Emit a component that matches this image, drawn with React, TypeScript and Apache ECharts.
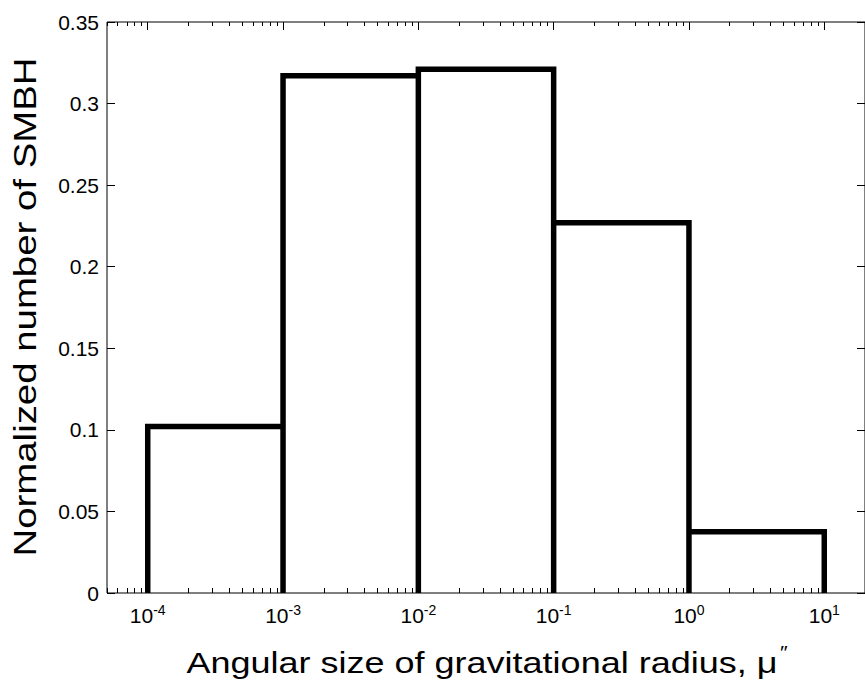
import React, { useEffect, useRef } from 'react';
import * as echarts from 'echarts';

// Histogram bins (angular size, micro-arcsec) and normalized counts
const binEdges = [1e-4, 1e-3, 1e-2, 1e-1, 1, 10];
const fractions = [0.102, 0.317, 0.321, 0.227, 0.0375];
const xRange = [5e-5, 20];
const yTicks = [0, 0.05, 0.1, 0.15, 0.2, 0.25, 0.3, 0.35];
const decadeExponents = [-4, -3, -2, -1, 0, 1];
const minorMultipliers = [2, 3, 4, 5, 6, 7, 8, 9];
const xTitle = 'Angular size of gravitational radius, μ';
const xTitleSup = '\u2033';
const yTitle = 'Normalized number of SMBH';

const FONT = '"Liberation Sans", Arial, Helvetica, sans-serif';

const lg = (v: number) => Math.log10(v);

export default function App() {
  const ref = useRef<HTMLDivElement>(null);
  useEffect(() => {
    document.body.style.margin = '0';
    if (!ref.current) return;
    const chart = echarts.init(ref.current, undefined, { renderer: 'svg' });

    const xMin = lg(xRange[0]);
    const xMax = lg(xRange[1]);
    const majorTicks = decadeExponents.map((e) => e);
    const minorTicks: number[] = [];
    for (let e = -5; e <= 1; e++) {
      for (const m of minorMultipliers) {
        const v = lg(m * Math.pow(10, e));
        if (v >= xMin - 1e-9 && v <= xMax + 1e-9) minorTicks.push(v);
      }
    }

    const stepData: number[][] = [[lg(binEdges[0]), 0]];
    for (let i = 0; i < fractions.length; i++) {
      stepData.push([lg(binEdges[i]), fractions[i]]);
      stepData.push([lg(binEdges[i + 1]), fractions[i]]);
      stepData.push([lg(binEdges[i + 1]), 0]);
    }

    const baseX = {
      type: 'value' as const,
      min: xMin,
      max: xMax,
      splitLine: { show: false },
      axisLine: { show: false, onZero: false },
    };
    const baseY = {
      type: 'value' as const,
      min: yTicks[0],
      max: yTicks[yTicks.length - 1],
      interval: 0.05,
      splitLine: { show: false },
      axisLine: { show: false, onZero: false },
    };
    const tick = (len: number, vals: number[]) => ({
      show: true,
      inside: true,
      length: len,
      customValues: vals,
      lineStyle: { color: '#000', width: 1 },
    });

    chart.setOption({
      animation: false,
      backgroundColor: '#fff',
      grid: {
        left: 107,
        right: -4,
        top: 22,
        bottom: 95,
        show: true,
        borderColor: '#000',
        borderWidth: 1,
        backgroundColor: '#fff',
      },
      xAxis: [
        {
          ...baseX,
          position: 'bottom',
          axisTick: tick(8, majorTicks),
          axisLabel: {
            show: true,
            margin: 10,
            customValues: majorTicks,
            formatter: (v: number) => `{b|10}{s|${Math.round(v)}}`,
            rich: {
              b: { fontSize: 21, fontFamily: FONT, color: '#000' },
              s: { fontSize: 14, fontFamily: FONT, color: '#000', padding: [0, 0, 10, 0] },
            },
          },
        },
        { ...baseX, position: 'bottom', axisTick: tick(5, minorTicks), axisLabel: { show: false } },
        { ...baseX, position: 'top', axisTick: tick(8, majorTicks), axisLabel: { show: false } },
        { ...baseX, position: 'top', axisTick: tick(4, minorTicks), axisLabel: { show: false } },
      ],
      yAxis: [
        {
          ...baseY,
          position: 'left',
          axisTick: { show: true, inside: true, length: 8, lineStyle: { color: '#000' } },
          axisLabel: {
            show: true,
            margin: 8,
            fontSize: 21,
            fontFamily: FONT,
            color: '#000',
            formatter: (v: number) => String(Number(v.toFixed(2))),
          },
        },
        {
          ...baseY,
          position: 'right',
          axisTick: { show: true, inside: true, length: 8, lineStyle: { color: '#000' } },
          axisLabel: { show: false },
        },
      ],
      graphic: [
        {
          type: 'text',
          x: 487,
          y: 663,
          scaleX: 1.2,
          style: {
            text: `{a|${xTitle}}{s|${xTitleSup}}`,
            textAlign: 'center',
            textVerticalAlign: 'middle',
            fill: '#000',
            rich: {
              a: { fontSize: 30, fontFamily: FONT, fill: '#000' },
              s: { fontSize: 18, fontFamily: FONT, fill: '#000', padding: [0, 0, 20, 2] },
            },
          },
        },
        {
          type: 'text',
          x: 25,
          y: 307,
          rotation: Math.PI / 2,
          scaleX: 1.2,
          style: {
            text: yTitle,
            textAlign: 'center',
            textVerticalAlign: 'middle',
            fontSize: 32,
            fontFamily: FONT,
            fill: '#000',
          },
        },
      ],
      series: [
        {
          type: 'line',
          xAxisIndex: 0,
          yAxisIndex: 0,
          data: stepData,
          symbol: 'none',
          clip: true,
          lineStyle: { color: '#000', width: 5.5, join: 'miter', cap: 'butt' },
          z: 3,
        },
      ],
    });
    return () => chart.dispose();
  }, []);
  return <div ref={ref} style={{ width: 865, height: 688 }} />;
}
